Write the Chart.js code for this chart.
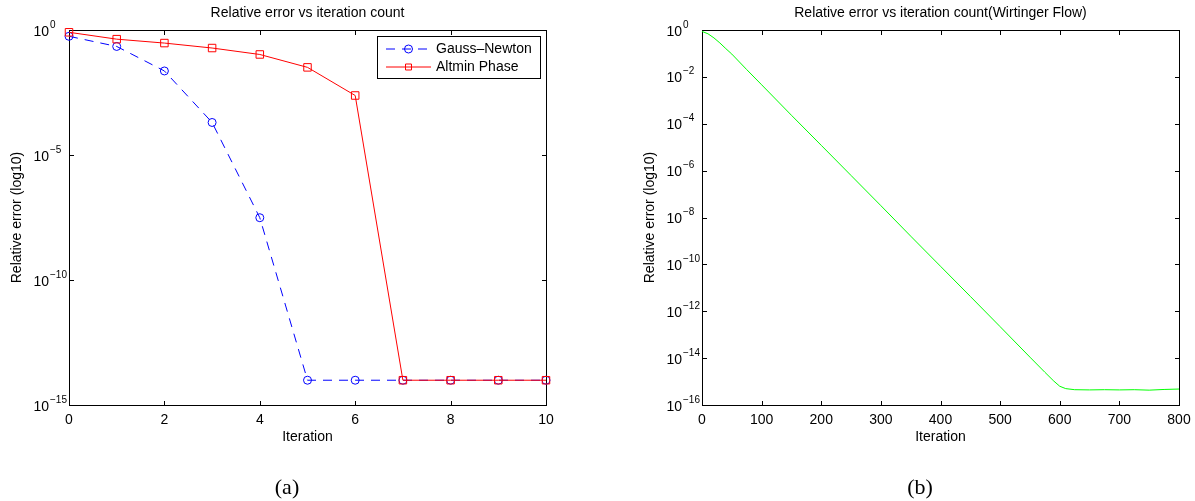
<!DOCTYPE html>
<html>
<head>
<meta charset="utf-8">
<script src="https://cdn.jsdelivr.net/npm/chart.js@4"></script>
<style>
  html, body { margin: 0; padding: 0; background: #fff; }
  body { width: 1195px; height: 501px; position: relative; overflow: hidden; }
  canvas { position: absolute; top: 0; }
  #leftChart { left: 0; }
  #rightChart { left: 600px; }
  .caption {
    position: absolute; top: 474px; line-height: 22px;
    font: 22px "Liberation Serif", "DejaVu Serif", serif;
    transform: translateX(-50%);
  }
</style>
</head>
<body>
<canvas id="leftChart" width="600" height="501"></canvas>
<canvas id="rightChart" width="595" height="501"></canvas>
<div class="caption" style="left:287px">(a)</div>
<div class="caption" style="left:920px">(b)</div>
<script>
// (a) Gauss-Newton vs Altmin Phase
const iterations = [0, 1, 2, 3, 4, 5, 6, 7, 8, 9, 10];
const gaussNewton = [0.56, 0.22, 0.023, 2.0e-4, 3.1e-8, 9.8e-15, 9.8e-15, 9.8e-15, 9.8e-15, 9.8e-15, 9.8e-15];
const altminPhase = [0.81, 0.43, 0.30, 0.19, 0.105, 0.032, 2.4e-3, 9.8e-15, 9.8e-15, 9.8e-15, 9.8e-15];
const xTicksLeft = [0, 2, 4, 6, 8, 10];
const yExpLeft = [0, -5, -10, -15];

// (b) Wirtinger Flow
const wfIterations = [0, 10, 20, 30, 40, 50, 75, 100, 150, 200, 250, 300, 350, 400, 450, 500,
  550, 575, 590, 600, 610, 625, 650, 675, 700, 725, 750, 775, 800];
const wfError = [0.87, 0.69, 0.46, 0.28, 0.16, 0.094, 0.0204, 4.6e-3, 2.3e-4, 1.2e-5, 6.2e-7, 3.2e-8,
  1.6e-9, 8.3e-11, 4.3e-12, 2.2e-13, 1.1e-14, 2.5e-15, 1.05e-15, 6.3e-16, 5.0e-16, 4.5e-16,
  4.4e-16, 4.5e-16, 4.4e-16, 4.5e-16, 4.3e-16, 4.6e-16, 4.8e-16];
const xTicksRight = [0, 100, 200, 300, 400, 500, 600, 700, 800];
const yExpRight = [0, -2, -4, -6, -8, -10, -12, -14, -16];

const FONT = '"Liberation Sans", Arial, Helvetica, sans-serif';

// MATLAB-style box, inward ticks, 10^n labels, titles and inset legend
const matlabAxes = {
  id: "matlabAxes",
  beforeDatasetsDraw(chart, args, opts) {
    const { ctx, chartArea: a, scales } = chart;
    ctx.save();
    ctx.strokeStyle = "#000";
    ctx.lineWidth = 1;
    ctx.strokeRect(a.left + 0.5, a.top + 0.5, a.right - a.left, a.bottom - a.top);
    ctx.beginPath();
    opts.xTicks.forEach((v) => {
      const px = Math.round(scales.x.getPixelForValue(v)) + 0.5;
      ctx.moveTo(px, a.bottom + 0.5); ctx.lineTo(px, a.bottom - 4);
      ctx.moveTo(px, a.top + 0.5); ctx.lineTo(px, a.top + 5);
    });
    opts.yExps.forEach((e) => {
      const py = Math.round(scales.y.getPixelForValue(Math.pow(10, e))) + 0.5;
      ctx.moveTo(a.left + 0.5, py); ctx.lineTo(a.left + 5, py);
      ctx.moveTo(a.right + 0.5, py); ctx.lineTo(a.right - 4, py);
    });
    ctx.stroke();
    ctx.restore();
  },
  afterDraw(chart, args, opts) {
    const { ctx, chartArea: a, scales } = chart;
    ctx.save();
    ctx.fillStyle = "#000";

    // x tick labels
    ctx.font = "14px " + FONT;
    ctx.textAlign = "center";
    ctx.textBaseline = "alphabetic";
    opts.xTicks.forEach((v) => {
      ctx.fillText(String(v), scales.x.getPixelForValue(v), a.bottom + 18.5);
    });

    // y tick labels 10^e
    opts.yExps.forEach((e) => {
      const py = scales.y.getPixelForValue(Math.pow(10, e));
      ctx.font = "14px " + FONT;
      ctx.textAlign = "right";
      ctx.fillText("10", a.left - 20, py + 5.5);
      ctx.font = "10px " + FONT;
      ctx.textAlign = "left";
      ctx.fillText(e < 0 ? "\u2212" + Math.abs(e) : String(e), a.left - 19, py - 2.5);
    });

    // titles
    const cx = (a.left + a.right) / 2;
    ctx.font = "14px " + FONT;
    ctx.textAlign = "center";
    ctx.textBaseline = "middle";
    ctx.fillText(opts.title, cx, 13.5);
    ctx.fillText(opts.xLabel, cx, a.bottom + 32);
    ctx.save();
    ctx.translate(a.left - 51.5, (a.top + a.bottom) / 2);
    ctx.rotate(-Math.PI / 2);
    ctx.fillText(opts.yLabel, 0, 0);
    ctx.restore();

    // inset legend
    if (opts.legend) {
      const L = opts.legend;
      ctx.fillStyle = "#fff";
      ctx.fillRect(L.left + 0.5, L.top + 0.5, L.width, L.height);
      ctx.strokeStyle = "#000";
      ctx.lineWidth = 1;
      ctx.strokeRect(L.left + 0.5, L.top + 0.5, L.width, L.height);
      chart.data.datasets.forEach((ds, i) => {
        const y = L.top + 13 + i * 18;
        ctx.strokeStyle = ds.borderColor;
        ctx.lineWidth = 1;
        ctx.setLineDash(ds.borderDash || []);
        ctx.beginPath();
        ctx.moveTo(L.left + 9, y); ctx.lineTo(L.left + 54, y);
        ctx.stroke();
        ctx.setLineDash([]);
        const mx = L.left + 31.5;
        ctx.beginPath();
        if (ds.pointStyle === "rect") {
          const s = ds.pointRadius * Math.SQRT1_2 * 0.8;
          ctx.rect(mx - s, y - s, 2 * s, 2 * s);
        } else {
          ctx.arc(mx, y, ds.pointRadius, 0, Math.PI * 2);
        }
        ctx.stroke();
        ctx.fillStyle = "#000";
        ctx.textAlign = "left";
        ctx.textBaseline = "middle";
        ctx.font = "14px " + FONT;
        ctx.fillText(ds.label, L.left + 59, y);
      });
    }
    ctx.restore();
  },
};

function baseOptions(padding, xMax, yMin, axes) {
  return {
    responsive: false,
    animation: false,
    events: [],
    layout: { padding: padding },
    elements: { line: { tension: 0 } },
    plugins: { legend: { display: false }, tooltip: { enabled: false }, matlabAxes: axes },
    scales: {
      x: { type: "linear", min: 0, max: xMax, display: false },
      y: { type: "logarithmic", min: yMin, max: 1, display: false },
    },
  };
}

document.addEventListener("DOMContentLoaded", function () {
  new Chart(document.getElementById("leftChart").getContext("2d"), {
    type: "line",
    data: {
      datasets: [
        {
          label: "Gauss\u2013Newton",
          data: iterations.map((x, i) => ({ x: x, y: gaussNewton[i] })),
          borderColor: "#0000ff",
          borderWidth: 1,
          borderDash: [9, 7],
          pointStyle: "circle",
          pointRadius: 4,
          pointBorderColor: "#0000ff",
          pointBackgroundColor: "rgba(0,0,0,0)",
          pointBorderWidth: 1,
          clip: false,
          order: 2,
        },
        {
          label: "Altmin Phase",
          data: iterations.map((x, i) => ({ x: x, y: altminPhase[i] })),
          borderColor: "#ff0000",
          borderWidth: 1,
          pointStyle: "rect",
          pointRadius: 5.3,
          pointBorderColor: "#ff0000",
          pointBackgroundColor: "rgba(0,0,0,0)",
          pointBorderWidth: 1,
          clip: false,
          order: 1,
        },
      ],
    },
    options: baseOptions({ left: 69, right: 54, top: 30, bottom: 96 }, 10, 1e-15, {
      title: "Relative error vs iteration count",
      xLabel: "Iteration",
      yLabel: "Relative error (log10)",
      xTicks: xTicksLeft,
      yExps: yExpLeft,
      legend: { left: 377, top: 36, width: 163, height: 42 },
    }),
    plugins: [matlabAxes],
  });

  new Chart(document.getElementById("rightChart").getContext("2d"), {
    type: "line",
    data: {
      datasets: [
        {
          label: "Wirtinger Flow",
          data: wfIterations.map((x, i) => ({ x: x, y: wfError[i] })),
          borderColor: "#00ff00",
          borderWidth: 1,
          pointRadius: 0,
          clip: false,
        },
      ],
    },
    options: baseOptions({ left: 102, right: 16, top: 30, bottom: 96 }, 800, 1e-16, {
      title: "Relative error vs iteration count(Wirtinger Flow)",
      xLabel: "Iteration",
      yLabel: "Relative error (log10)",
      xTicks: xTicksRight,
      yExps: yExpRight,
      legend: null,
    }),
    plugins: [matlabAxes],
  });
});
</script>
</body>
</html>
